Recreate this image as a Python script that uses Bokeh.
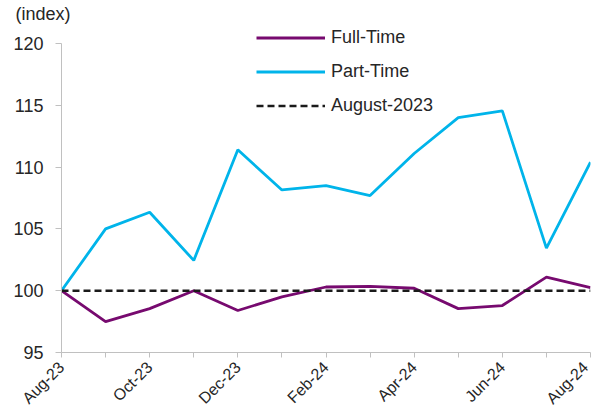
import math
from bokeh.plotting import figure
from bokeh.models import Range1d, FixedTicker, Legend, LegendItem
from bokeh.embed import file_html
from bokeh.resources import INLINE

months = ["Aug-23", "Sep-23", "Oct-23", "Nov-23", "Dec-23", "Jan-24", "Feb-24",
          "Mar-24", "Apr-24", "May-24", "Jun-24", "Jul-24", "Aug-24"]
full_time = [100.0, 97.5, 98.55, 100.0, 98.4, 99.5, 100.3, 100.35, 100.2, 98.55, 98.8, 101.1, 100.25]
part_time = [100.0, 105.0, 106.35, 102.45, 111.4, 108.15, 108.5, 107.7, 111.1, 114.0, 114.55, 103.45, 110.4]
baseline = [100.0] * len(months)
y_ticks = [95, 100, 105, 110, 115, 120]

x = list(range(len(months)))
FONT = "Liberation Sans"
TXT = "#262626"

# frame: top at 23px, 120 at 43px, 95 at 352px
Y_TOP = 120 + 20 / (309 / 25)

p = figure(width=591, height=416, output_backend="svg", toolbar_location=None,
           x_range=Range1d(0, len(months) - 1), y_range=Range1d(95, Y_TOP),
           min_border_left=61, min_border_right=1, min_border_top=23, min_border_bottom=64,
           title="(index)")
p.outline_line_color = None
p.xgrid.grid_line_color = None
p.ygrid.grid_line_color = None
p.background_fill_color = "white"
p.border_fill_color = "white"

p.title.text_font = FONT
p.title.text_font_size = "18px"
p.title.text_font_style = "normal"
p.title.text_color = TXT
p.title.align = "left"
p.title.offset = -46
p.title.standoff = 0

r_full = p.line(x, full_time, line_color="#770a6f", line_width=2.8)
r_part = p.line(x, part_time, line_color="#00b4ea", line_width=2.8)
r_base = p.line(x, baseline, line_color="#1a1a1a", line_width=2.6, line_dash="7 4")

xa = p.xaxis[0]
xa.ticker = FixedTicker(ticks=x)
xa.major_label_overrides = {i: (m if i % 2 == 0 else "") for i, m in enumerate(months)}
xa.major_label_orientation = math.pi / 4
xa.major_label_text_font = FONT
xa.major_label_text_font_size = "16px"
xa.major_label_text_color = TXT
xa.axis_line_color = "#c0c0c0"
xa.major_tick_line_color = "#c0c0c0"
xa.major_tick_out = 5
xa.major_tick_in = 0
xa.minor_tick_line_color = None
xa.major_label_standoff = 7

ya = p.yaxis[0]
ya.ticker = FixedTicker(ticks=y_ticks)
ya.bounds = (95, 120)
ya.major_label_text_font = FONT
ya.major_label_text_font_size = "18px"
ya.major_label_text_color = TXT
ya.axis_line_color = "#c0c0c0"
ya.major_tick_line_color = "#c0c0c0"
ya.major_tick_out = 6
ya.major_tick_in = 0
ya.minor_tick_line_color = None
ya.major_label_standoff = 12

legend = Legend(items=[LegendItem(label="Full-Time", renderers=[r_full]),
                       LegendItem(label="Part-Time", renderers=[r_part]),
                       LegendItem(label="August-2023", renderers=[r_base])],
                location=(195, 236), orientation="vertical")
legend.border_line_color = None
legend.background_fill_alpha = 0
legend.padding = 0
legend.margin = 0
legend.spacing = 13
legend.glyph_width = 69
legend.glyph_height = 21
legend.label_height = 21
legend.label_standoff = 6
legend.label_text_font = FONT
legend.label_text_font_size = "18px"
legend.label_text_color = TXT
p.add_layout(legend, "center")

open("out.html", "w").write(file_html(p, INLINE))
